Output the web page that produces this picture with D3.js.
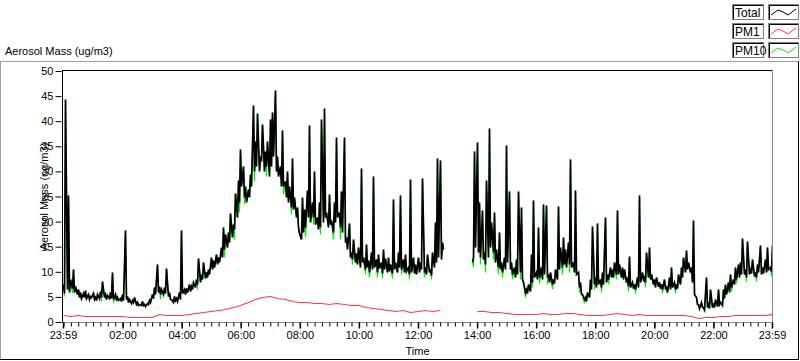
<!DOCTYPE html>
<html><head><meta charset="utf-8">
<script src="https://cdn.jsdelivr.net/npm/d3@7"></script>
<style>
html,body{margin:0;padding:0;background:#fff;}
svg{display:block;}
text{font-family:"Liberation Sans",Arial,sans-serif;font-size:11px;fill:#000;}
</style></head><body>
<svg id="c" width="800" height="361"></svg>
<script>
// ---- data ----
const startLabel = "23:59";
const stepTotal = 2.5;  // minutes per sample for Total / PM10
const stepPM1 = 15;     // minutes per sample for PM1
const yTicks = [0,5,10,15,20,25,30,35,40,45,50];
const xTickLabels = ["23:59","02:00","04:00","06:00","08:00","10:00","12:00","14:00","16:00","18:00","20:00","22:00","23:59"];
const seriesNames = ["Total","PM1","PM10"];
const seriesColors = ["#000000","#ff3c3c","#00ee00"];

// one line = one hour (24 samples)
const total = [
7.5,5.8,44.4,6.5,25.3,6.0,8.5,6.8,10.6,6.0,7.2,5.5,6.5,5.0,6.0,4.8,5.8,5.0,6.3,4.7,5.5,4.6,5.2,4.9,
5.8,4.6,5.0,4.4,5.6,4.8,6.2,5.0,8.2,4.9,5.6,4.5,5.3,4.7,6.0,4.8,10.0,4.6,5.5,4.4,5.0,4.3,4.8,4.2,
5.5,4.3,18.3,4.5,5.2,4.0,4.6,3.8,4.4,3.9,5.0,3.6,4.0,3.3,3.6,3.4,4.2,3.3,3.5,3.2,3.8,3.6,4.4,4.0,
5.5,4.8,7.0,5.6,11.6,6.0,7.2,5.5,6.5,5.6,7.0,5.8,10.7,5.2,6.0,4.5,4.6,4.0,5.2,4.3,4.8,4.2,6.0,4.6,
18.3,5.8,6.5,5.6,6.8,6.0,7.5,6.2,7.2,6.5,8.0,7.0,8.6,7.5,12.7,8.0,9.5,8.5,12.0,8.8,10.0,9.0,10.5,9.5,
13.0,10.5,12.4,11.0,13.5,11.5,13.0,12.0,15.0,13.0,19.0,14.5,17.5,15.0,18.0,16.0,21.7,17.0,19.5,18.5,25.7,21.0,28.3,24.0,
34.4,27.0,31.0,25.0,27.0,24.0,26.5,25.0,29.5,27.0,43.2,30.0,36.0,31.0,41.6,30.0,33.0,32.0,39.4,30.0,34.0,31.0,36.0,29.0,
40.4,31.0,41.9,33.0,46.3,30.0,33.0,29.0,31.0,27.0,38.2,27.0,28.0,25.0,30.0,24.0,27.0,23.0,32.7,22.5,25.0,21.0,23.0,19.0,
17.7,16.5,25.0,18.0,22.5,19.0,26.3,21.0,39.2,20.0,24.0,21.0,30.0,19.5,21.0,18.5,24.0,19.0,40.4,20.0,42.6,21.0,22.0,19.0,
25.5,19.5,20.3,18.0,24.0,20.0,36.9,21.0,22.0,19.0,26.0,18.0,36.9,16.0,17.0,14.5,19.7,13.0,14.0,12.5,16.5,12.0,13.7,11.5,
15.0,11.0,30.6,12.0,13.0,10.5,15.5,11.0,12.4,10.0,14.0,10.5,29.1,11.0,12.5,10.0,13.5,10.8,12.0,9.8,14.5,10.5,12.8,10.0,
13.0,10.2,11.5,9.8,24.6,10.5,12.0,10.0,14.0,11.0,25.2,10.5,12.5,10.0,13.5,10.2,11.0,9.5,28.5,10.0,13.0,9.8,11.5,9.6,
13.0,10.0,12.0,10.5,28.7,10.0,11.0,9.5,13.5,10.0,10.5,9.3,14.0,11.0,20.0,12.0,32.6,13.0,32.3,12.5,16.0,14.5,null,null,
null,null,null,null,null,null,null,null,null,null,null,null,null,null,null,null,null,null,null,null,12.0,13.0,34.0,15.0,
35.8,14.0,24.0,13.0,22.3,12.5,14.0,11.5,28.3,13.0,38.6,15.0,20.0,14.0,22.0,12.0,14.5,11.0,18.0,10.5,12.0,10.0,13.0,10.5,
35.3,12.0,26.0,10.5,12.0,9.5,11.0,9.0,12.5,9.5,26.1,10.0,23.0,8.5,8.0,6.0,6.5,5.8,7.5,6.2,13.5,8.0,24.3,9.0,
10.0,8.5,18.9,9.0,11.0,8.5,23.5,9.5,23.3,9.0,9.5,8.0,10.0,7.5,8.5,7.8,10.5,8.5,23.1,10.5,15.0,11.0,17.0,11.5,
14.5,11.0,16.0,11.5,32.4,11.0,12.0,10.0,26.2,9.5,10.0,7.0,8.0,5.5,5.5,4.5,5.0,4.2,6.0,5.0,8.5,6.5,19.1,7.5,
9.0,7.0,19.8,7.5,8.5,7.0,10.0,7.5,20.9,8.0,9.5,8.5,11.0,9.0,10.5,9.0,12.0,9.5,22.3,9.5,11.5,9.0,11.0,8.5,
10.5,8.0,9.0,7.2,13.2,7.0,8.0,6.8,7.5,6.5,9.0,7.0,25.3,8.0,10.0,8.5,9.0,8.0,14.0,9.0,15.0,8.5,9.5,7.5,
8.5,7.0,9.0,7.2,8.0,6.8,7.5,6.5,8.5,6.8,7.0,6.0,9.0,6.5,11.0,7.0,8.0,6.5,7.5,6.8,9.5,7.5,11.0,9.0,
13.0,10.0,14.3,10.5,12.0,10.0,11.0,8.0,20.3,5.5,5.0,3.5,3.5,2.8,4.0,2.9,3.0,2.6,9.0,3.0,3.5,2.7,6.6,3.0,
3.8,2.9,4.5,3.2,6.5,3.5,4.0,3.4,6.5,4.8,7.5,5.5,8.0,6.0,9.5,7.0,8.5,7.5,11.0,8.5,11.5,9.0,12.0,9.5,
16.8,9.5,10.5,9.0,16.2,9.5,11.0,9.8,12.5,9.2,10.0,9.0,11.5,10.0,15.4,9.5,11.0,9.8,12.5,10.0,15.0,10.5,11.0,10.2,
15.3
];

const pm10 = [
7.5,5.2,44.4,6.5,25.3,6.0,8.5,5.8,10.6,6.0,7.2,5.5,6.5,5.0,6.0,4.8,5.8,5.0,6.3,4.7,5.5,4.6,5.2,4.9,
5.8,4.6,5.0,4.4,5.6,4.8,6.2,4.2,8.2,4.9,5.6,4.5,5.3,4.7,6.0,4.8,10.0,4.0,5.5,4.4,5.0,4.3,4.8,4.2,
5.5,4.3,18.3,4.5,5.2,4.0,4.6,3.8,4.4,3.9,5.0,3.6,4.0,3.3,3.6,3.4,4.2,3.3,3.5,3.2,3.8,3.6,4.4,4.0,
5.5,4.8,7.0,5.6,11.6,6.0,7.2,4.6,6.5,5.6,7.0,5.8,10.7,5.2,6.0,4.5,4.6,4.0,5.2,4.3,4.8,4.2,6.0,4.6,
18.3,5.8,6.5,5.6,6.8,6.0,7.5,6.2,7.2,6.5,8.0,7.0,8.6,6.5,12.7,8.0,9.5,8.5,12.0,8.8,10.0,9.0,10.5,9.5,
13.0,10.5,12.4,11.0,13.5,11.5,13.0,12.0,15.0,13.0,19.0,13.0,17.5,15.0,18.0,16.0,21.7,17.0,19.5,16.5,25.7,21.0,28.3,22.0,
34.4,27.0,31.0,23.5,27.0,24.0,26.5,25.0,29.5,27.0,43.2,28.0,36.0,31.0,41.6,30.0,33.0,32.0,39.4,30.0,34.0,29.0,36.0,29.0,
40.4,31.0,41.9,33.0,46.3,30.0,33.0,29.0,31.0,27.0,38.2,25.5,28.0,25.0,30.0,24.0,27.0,21.5,32.7,22.5,25.0,21.0,23.0,19.0,
17.7,16.5,25.0,18.0,22.5,17.0,26.3,21.0,39.2,20.0,24.0,19.5,30.0,19.5,21.0,18.5,24.0,17.5,40.4,20.0,42.6,21.0,22.0,19.0,
25.5,19.5,20.3,16.5,24.0,20.0,36.9,21.0,22.0,16.5,26.0,18.0,36.9,16.0,17.0,14.5,19.7,13.0,14.0,11.5,16.5,12.0,13.7,11.5,
15.0,11.0,30.6,12.0,13.0,9.5,15.5,11.0,12.4,9.0,14.0,10.5,29.1,11.0,12.5,9.0,13.5,10.8,12.0,8.8,14.5,10.5,12.8,10.0,
13.0,10.2,11.5,8.8,24.6,10.5,12.0,10.0,14.0,11.0,25.2,9.5,12.5,10.0,13.5,10.2,11.0,8.5,28.5,10.0,13.0,9.8,11.5,9.6,
13.0,10.0,12.0,10.5,28.7,9.0,11.0,9.5,13.5,10.0,10.5,8.5,14.0,11.0,20.0,12.0,32.6,13.0,32.3,12.5,16.0,14.5,null,null,
null,null,null,null,null,null,null,null,null,null,null,null,null,null,null,null,null,null,null,null,12.0,11.0,34.0,15.0,
35.8,14.0,24.0,11.5,22.3,12.5,14.0,10.0,28.3,13.0,38.6,15.0,20.0,12.5,22.0,12.0,14.5,9.5,18.0,10.5,12.0,9.0,13.0,10.5,
35.3,12.0,26.0,10.5,12.0,8.5,11.0,9.0,12.5,9.5,26.1,8.5,23.0,8.5,8.0,5.0,6.5,5.8,7.5,6.2,13.5,7.0,24.3,9.0,
10.0,8.5,18.9,7.8,11.0,8.5,23.5,9.5,23.3,7.5,9.5,8.0,10.0,6.5,8.5,7.8,10.5,8.5,23.1,10.5,15.0,9.5,17.0,11.5,
14.5,11.0,16.0,10.0,32.4,11.0,12.0,10.0,26.2,9.5,10.0,6.0,8.0,5.5,5.5,3.8,5.0,4.2,6.0,5.0,8.5,6.5,19.1,6.5,
9.0,7.0,19.8,7.5,8.5,6.0,10.0,7.5,20.9,8.0,9.5,7.5,11.0,9.0,10.5,9.0,12.0,8.5,22.3,9.5,11.5,9.0,11.0,8.5,
10.5,8.0,9.0,6.2,13.2,7.0,8.0,6.8,7.5,5.8,9.0,7.0,25.3,8.0,10.0,8.5,9.0,7.0,14.0,9.0,15.0,8.5,9.5,7.5,
8.5,7.0,9.0,7.2,8.0,6.8,7.5,5.8,8.5,6.8,7.0,6.0,9.0,6.5,11.0,7.0,8.0,5.8,7.5,6.8,9.5,7.5,11.0,9.0,
13.0,10.0,14.3,10.5,12.0,10.0,11.0,8.0,20.3,5.5,5.0,3.5,3.5,2.8,4.0,2.9,3.0,2.0,9.0,3.0,3.5,2.7,6.6,3.0,
3.8,2.9,4.5,3.2,6.5,3.5,4.0,3.4,6.5,4.8,7.5,5.5,8.0,6.0,9.5,6.2,8.5,7.5,11.0,7.8,11.5,9.0,12.0,9.5,
16.8,9.5,10.5,8.2,16.2,9.5,11.0,9.8,12.5,9.2,10.0,8.2,11.5,10.0,15.4,9.5,11.0,9.8,12.5,10.0,15.0,10.5,11.0,9.2,
15.3
];

const pm1 = [
1.3,1.2,1.3,1.2,1.2,1.2,1.1,1.1,
1.1,1.0,0.9,0.9,1.0,1.5,1.4,1.3,
1.4,1.6,1.8,1.9,2.1,2.3,2.6,3.0,
3.4,4.0,4.6,5.0,5.1,4.8,4.5,4.2,
4.0,3.9,3.8,3.7,3.6,3.8,3.5,3.3,
3.4,3.0,2.8,2.6,2.4,2.2,2.3,2.0,
2.1,2.3,2.1,2.4,null,null,null,null,
2.2,2.1,1.9,2.0,1.8,1.5,1.6,1.5,
1.6,1.8,1.5,1.6,1.7,1.8,1.5,1.3,
1.3,1.4,1.6,1.7,1.5,1.4,1.5,1.4,
1.3,1.3,1.4,1.3,1.3,1.2,0.8,0.9,
1.0,1.1,1.1,1.3,1.3,1.3,1.4,1.4,
1.5
];

// ---- chart ----
const svg = d3.select("#c");
const parseHM = d3.timeParse("%H:%M");
const hm = parseHM(startLabel);
const t0 = new Date(2000,0,1,hm.getHours(),hm.getMinutes());
const t1 = d3.timeDay.offset(t0,1);
const tickTimes = xTickLabels.map((s,i)=>{
  if(i===0) return t0;
  if(i===xTickLabels.length-1) return t1;
  const p = parseHM(s); return new Date(2000,0,2,p.getHours(),p.getMinutes());
});

const L=63, R=772, T=71, B=322;
const x = d3.scaleTime().domain([t0,t1]).range([L,R]);
const y = d3.scaleLinear().domain([0,50]).range([B,T]);

// outer panel frame
svg.append("line").attr("x1",0).attr("x2",799).attr("y1",61.5).attr("y2",61.5).attr("stroke","#a0a0a0");
svg.append("line").attr("x1",0.5).attr("x2",0.5).attr("y1",61).attr("y2",360).attr("stroke","#a0a0a0");
svg.append("line").attr("x1",798.5).attr("x2",798.5).attr("y1",61).attr("y2",360).attr("stroke","#000");
svg.append("line").attr("x1",0).attr("x2",799).attr("y1",359.5).attr("y2",359.5).attr("stroke","#000");

svg.append("text").attr("x",5).attr("y",55).text("Aerosol Mass (ug/m3)");

// plot borders
svg.append("line").attr("x1",62).attr("x2",773).attr("y1",70.5).attr("y2",70.5).attr("stroke","#000");
svg.append("line").attr("x1",772.5).attr("x2",772.5).attr("y1",70).attr("y2",323).attr("stroke","#888");
svg.append("line").attr("x1",62).attr("x2",773).attr("y1",322.5).attr("y2",322.5).attr("stroke","#888");

svg.append("clipPath").attr("id","clp").append("rect").attr("x",L).attr("y",T-1).attr("width",R-L).attr("height",B-T+1);

const tAt = (i,step) => new Date(t0.getTime() + i*step*60000);
const lineOf = (arr, step) => d3.line()
  .defined(d=>d!=null)
  .x((d,i)=>Math.round(x(tAt(i,step))) + 0.5)
  .y(d=>Math.round(y(d)) + 0.5)(arr);

const g = svg.append("g").attr("clip-path","url(#clp)");
g.append("path").attr("d",lineOf(pm10,stepTotal)).attr("fill","none").attr("stroke",seriesColors[2]).attr("stroke-width",1.2);
g.append("path").attr("d",lineOf(total,stepTotal)).attr("fill","none").attr("stroke",seriesColors[0]).attr("stroke-width",1.7);
g.append("path").attr("d",lineOf(pm1,stepPM1)).attr("fill","none").attr("stroke",seriesColors[1]).attr("stroke-width",1.2);

// y axis
const ya = svg.append("g").attr("transform","translate(62.5,0)")
  .call(d3.axisLeft(y).tickValues(yTicks).tickSize(6).tickPadding(3).tickFormat(d3.format("d")));
ya.select(".domain").attr("d",`M0,${T-0.5}V${B+0.5}`).attr("stroke","#000");
ya.selectAll("text").style("font-family",'"Liberation Sans",Arial,sans-serif').style("font-size","11px");
ya.selectAll(".tick line").attr("transform","translate(-1,0)");

svg.append("text").attr("transform",`translate(48,${(T+B)/2}) rotate(-90)`).attr("text-anchor","middle").text("Aerosol Mass (ug/m3)");

// x minor ticks
const minor = d3.timeMinute.every(15).range(t0,t1);
svg.append("g").attr("transform",`translate(0,${B+0.5})`)
  .call(d3.axisBottom(x).tickValues(minor).tickSize(4).tickFormat(""))
  .call(s=>s.select(".domain").remove());
// x major ticks
const xa = svg.append("g").attr("transform",`translate(0,${B+0.5})`)
  .call(d3.axisBottom(x).tickValues(tickTimes).tickSize(6).tickPadding(3).tickFormat((d,i)=>xTickLabels[i]));
xa.select(".domain").remove();
xa.selectAll("text").style("font-family",'"Liberation Sans",Arial,sans-serif').style("font-size","11px");
xa.selectAll(".tick line").attr("stroke-width",1.5);

svg.append("text").attr("x",(L+R)/2).attr("y",355).attr("text-anchor","middle").text("Time");

// legend
const lg = svg.append("g").selectAll("g").data(seriesNames).join("g")
  .attr("transform",(d,i)=>`translate(732,${4+i*19})`);
lg.append("rect").attr("x",0.5).attr("y",0.5).attr("width",31).attr("height",15).attr("fill","#fff").attr("stroke","#808080");
lg.append("path").attr("d","M1.5,15V1.5H31").attr("fill","none").attr("stroke","#000");
lg.append("text").attr("x",3).attr("y",12.5).style("font-size","12px").text(d=>d);
lg.append("rect").attr("x",36.5).attr("y",0.5).attr("width",30).attr("height",15).attr("fill","#fff").attr("stroke","#808080");
lg.append("path").attr("d","M37.5,15V1.5H66").attr("fill","none").attr("stroke","#000");
lg.append("path").attr("d","M39,11 L46,6 L51,8 L56,11 L64,5").attr("fill","none")
  .attr("stroke",(d,i)=>seriesColors[i]).attr("stroke-width",1);
</script>
</body></html>
